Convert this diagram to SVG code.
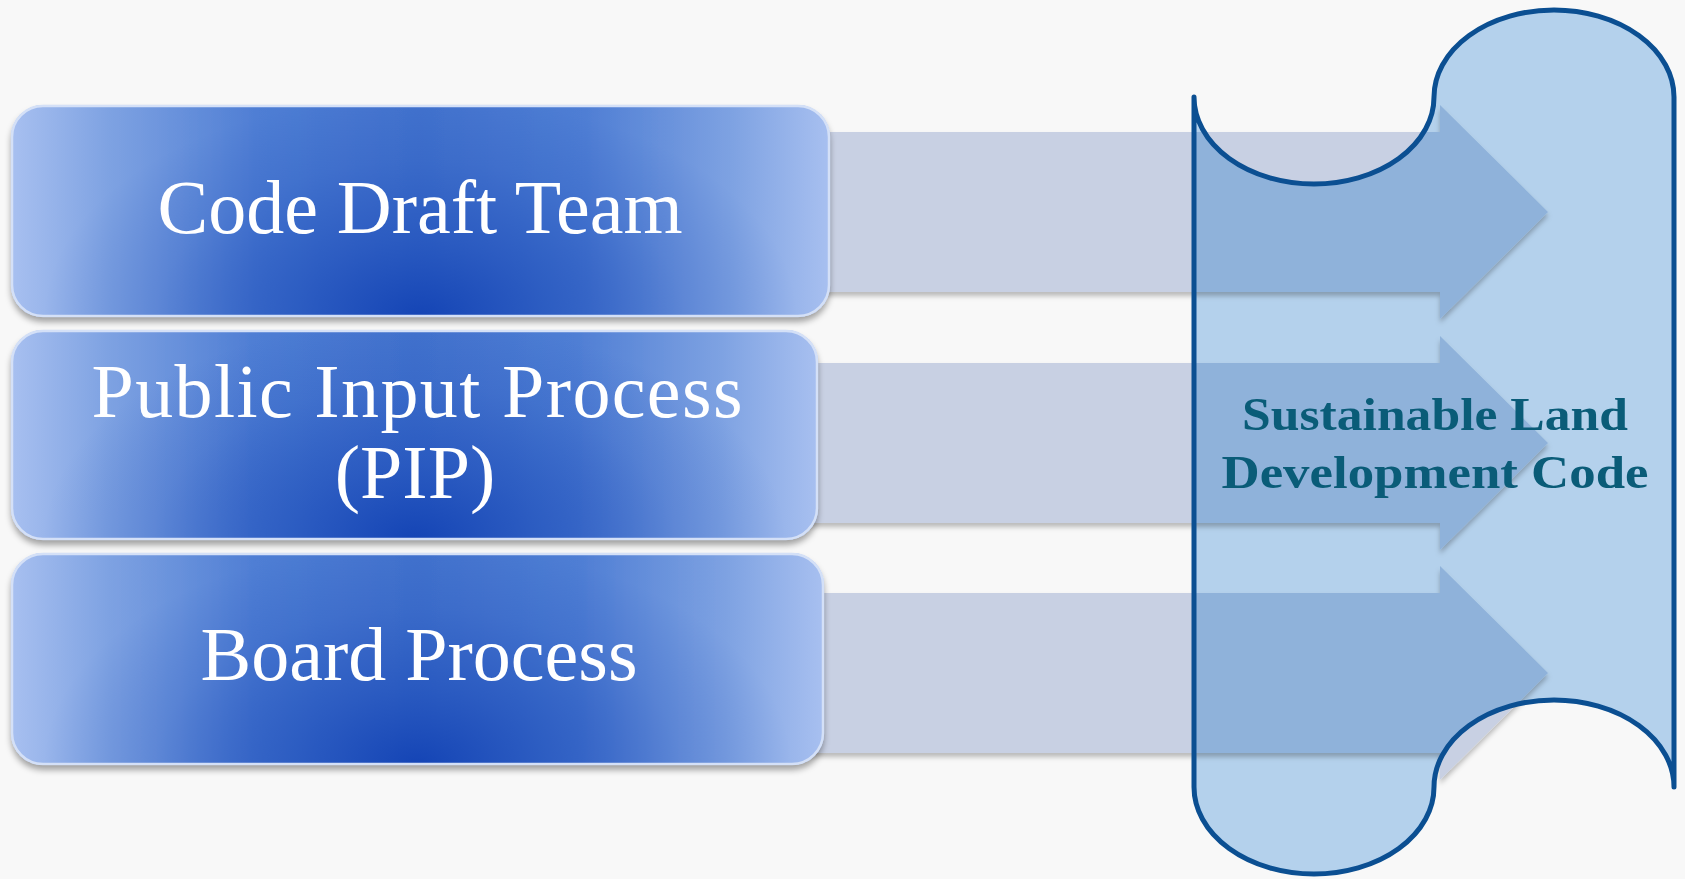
<svg xmlns="http://www.w3.org/2000/svg" width="1685" height="879" viewBox="0 0 1685 879">
  <style>
    .box-text { font-family: "Liberation Serif", "Times New Roman", serif; font-size: 76px; fill: #ffffff; text-anchor: middle; }
    .code-text { font-family: "Liberation Serif", "Times New Roman", serif; font-size: 46px; font-weight: bold; fill: #0a5c78; text-anchor: middle; }
    .band { fill: #c8d0e3; }
    .band-in { fill: #8fb2da; }
    .box-edge { fill: none; stroke: #d4e0f7; stroke-width: 2.5; }
  </style>
  <defs>
    <linearGradient id="boxLin" x1="0" y1="0" x2="1" y2="0">
      <stop offset="0" stop-color="#a8c0f0"/>
      <stop offset="0.12" stop-color="#7ea2e2"/>
      <stop offset="0.3" stop-color="#4f7ed4"/>
      <stop offset="0.5" stop-color="#4272cd"/>
      <stop offset="0.7" stop-color="#4f7ed4"/>
      <stop offset="0.88" stop-color="#7ea2e2"/>
      <stop offset="1" stop-color="#a8c0f0"/>
    </linearGradient>
    <radialGradient id="boxRad" cx="0.5" cy="1" r="1" gradientTransform="translate(0.5,1) scale(0.46,1.05) translate(-0.5,-1)">
      <stop offset="0" stop-color="#1242b4" stop-opacity="0.95"/>
      <stop offset="0.35" stop-color="#1a4ab8" stop-opacity="0.6"/>
      <stop offset="0.7" stop-color="#1a4ab8" stop-opacity="0.2"/>
      <stop offset="1" stop-color="#1a4ab8" stop-opacity="0"/>
    </radialGradient>
    <filter id="shadow" x="-5%" y="-10%" width="110%" height="125%">
      <feDropShadow dx="0" dy="5" stdDeviation="3" flood-color="#000000" flood-opacity="0.35"/>
    </filter>
    <filter id="bandShadow" x="-5%" y="-10%" width="110%" height="125%">
      <feDropShadow dx="0" dy="4" stdDeviation="2.5" flood-color="#000000" flood-opacity="0.25"/>
    </filter>
    <path id="scrollShape" d="M 1194 97 A 120 87 0 0 0 1434 97 A 120 87 0 0 1 1674 97 L 1674 787 A 120 87 0 0 0 1434 787 A 120 87 0 0 1 1194 787 Z"/>
    <clipPath id="scrollClip">
      <path d="M 1194 97 A 120 87 0 0 0 1434 97 A 120 87 0 0 1 1674 97 L 1674 787 A 120 87 0 0 0 1434 787 A 120 87 0 0 1 1194 787 Z"/>
    </clipPath>
    <path id="arrow1" d="M 700 132 L 1440 132 L 1440 105 L 1548 212 L 1440 319 L 1440 292 L 700 292 Z"/>
    <path id="arrow2" d="M 700 363 L 1440 363 L 1440 336 L 1548 443 L 1440 550 L 1440 523 L 700 523 Z"/>
    <path id="arrow3" d="M 700 593 L 1440 593 L 1440 566 L 1548 673 L 1440 780 L 1440 753 L 700 753 Z"/>
  </defs>

  <rect x="0" y="0" width="1685" height="879" fill="#f8f8f8"/>

  <g id="connectors">
    <use href="#arrow1" class="band" filter="url(#bandShadow)"/>
    <use href="#arrow2" class="band" filter="url(#bandShadow)"/>
    <use href="#arrow3" class="band" filter="url(#bandShadow)"/>
  </g>

  <g id="node-sustainable-land-development-code">
    <use href="#scrollShape" fill="#b4d1ec"/>
    <g clip-path="url(#scrollClip)">
      <use href="#arrow1" class="band-in" filter="url(#bandShadow)"/>
      <use href="#arrow2" class="band-in" filter="url(#bandShadow)"/>
      <use href="#arrow3" class="band-in" filter="url(#bandShadow)"/>
    </g>
    <use href="#scrollShape" fill="none" stroke="#0b4f92" stroke-width="5" stroke-linejoin="round"/>
    <text class="code-text" x="1435" y="430" textLength="386" lengthAdjust="spacingAndGlyphs">Sustainable Land</text>
    <text class="code-text" x="1435" y="488" textLength="427" lengthAdjust="spacingAndGlyphs">Development Code</text>
  </g>

  <g id="node-code-draft-team">
    <g filter="url(#shadow)">
      <rect x="11" y="105" width="819" height="212" rx="32" fill="url(#boxLin)"/>
    </g>
    <rect x="11" y="105" width="819" height="212" rx="32" fill="url(#boxRad)"/>
    <rect x="12" y="106" width="817" height="210" rx="31" class="box-edge"/>
    <text class="box-text" x="420" y="233">Code Draft Team</text>
  </g>

  <g id="node-public-input-process">
    <g filter="url(#shadow)">
      <rect x="11" y="330" width="807" height="210" rx="32" fill="url(#boxLin)"/>
    </g>
    <rect x="11" y="330" width="807" height="210" rx="32" fill="url(#boxRad)"/>
    <rect x="12" y="331" width="805" height="208" rx="31" class="box-edge"/>
    <text class="box-text" x="417" y="417" textLength="651">Public Input Process</text>
    <text class="box-text" x="415" y="498">(PIP)</text>
  </g>

  <g id="node-board-process">
    <g filter="url(#shadow)">
      <rect x="11" y="553" width="813" height="212" rx="32" fill="url(#boxLin)"/>
    </g>
    <rect x="11" y="553" width="813" height="212" rx="32" fill="url(#boxRad)"/>
    <rect x="12" y="554" width="811" height="210" rx="31" class="box-edge"/>
    <text class="box-text" x="419" y="680">Board Process</text>
  </g>
</svg>
